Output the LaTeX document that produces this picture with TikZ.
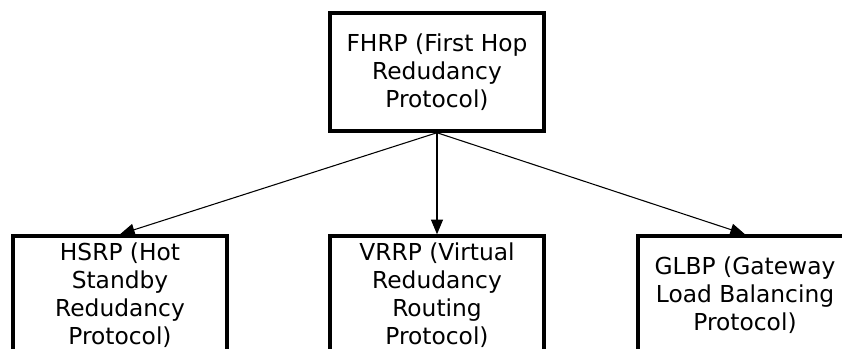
\documentclass[tikz,border=0pt]{standalone}
\usepackage{fontspec}
\setmainfont{DejaVu Sans}
\usetikzlibrary{arrows.meta}
\tikzset{
  box/.style={draw=black, line width=2.6pt, fill=white, minimum width=160.5pt, minimum height=88.5pt,
    align=center, inner sep=0pt, font=\fontsize{17.5}{21}\selectfont, text=black},
  conn/.style={line width=0.8pt, -{Triangle[length=11pt,width=9pt]}}
}
\begin{document}
\begin{tikzpicture}[x=0.75pt,y=-0.75pt]
\useasboundingbox (0,0) rectangle (842,349);
\clip (0,0) rectangle (842,349);
\fill[white] (0,0) rectangle (842,349);
\node[box] (fhrp) at (437,72) {FHRP (First Hop\\Redudancy\\Protocol)};
\node[box] (hsrp) at (120,295) {HSRP (Hot\\Standby\\Redudancy\\Protocol)};
\node[box] (vrrp) at (437,295) {VRRP (Virtual\\Redudancy\\Routing\\Protocol)};
\node[box] (glbp) at (745,295) {GLBP (Gateway\\Load Balancing\\Protocol)};
\draw[conn] (fhrp.south) -- (hsrp.north);
\draw[conn] (fhrp.south) -- (vrrp.north);
\draw[conn] (fhrp.south) -- (glbp.north);
\end{tikzpicture}
\end{document}
